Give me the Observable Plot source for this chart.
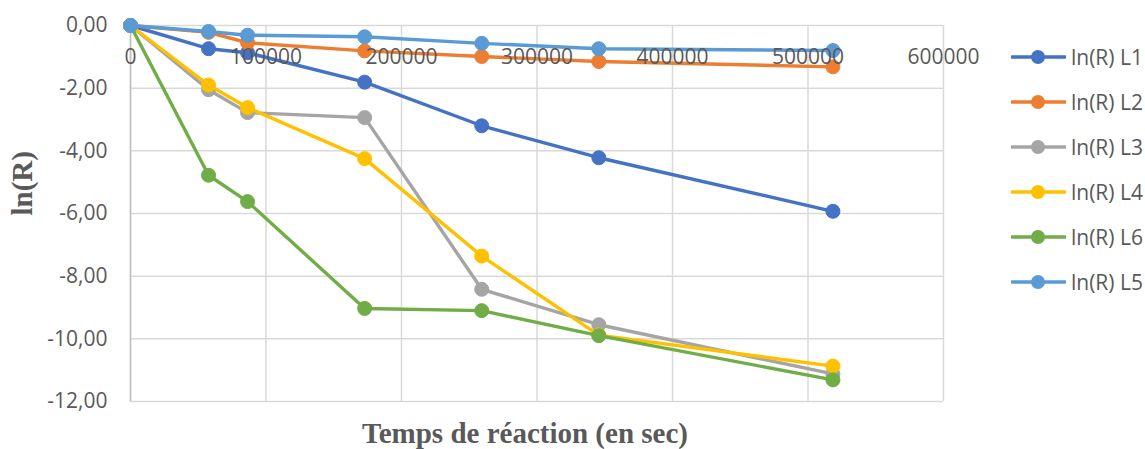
<!DOCTYPE html>
<html>
<head>
<meta charset="utf-8">
<script src="https://cdn.jsdelivr.net/npm/d3@7"></script>
<script src="https://cdn.jsdelivr.net/npm/@observablehq/plot@0.6"></script>
<style>
  body { margin: 0; background: white; }
  #wrap { position: relative; width: 1145px; height: 449px; background: white; }
  #legend { position: absolute; left: 1011px; top: 0; font-family: "Open Sans", sans-serif; font-size: 21px; color: #595959; }
  .item { position: absolute; left: 0; height: 30px; display: flex; align-items: center; white-space: nowrap; }
  .item svg { display: block; margin-right: 5px; }
</style>
</head>
<body>
<div id="wrap"><div id="legend"></div></div>
<script>
// Time in seconds
const times = [0, 57600, 86400, 172800, 259200, 345600, 518400];
// Series values, ln(R)
const L1 = [0, -0.74, -0.87, -1.81, -3.20, -4.22, -5.93];
const L2 = [0, -0.22, -0.55, -0.81, -0.99, -1.15, -1.32];
const L3 = [0, -2.05, -2.78, -2.94, -8.42, -9.55, -11.12];
const L4 = [0, -1.90, -2.62, -4.25, -7.36, -9.88, -10.87];
const L6 = [0, -4.78, -5.62, -9.03, -9.10, -9.90, -11.31];
const L5 = [0, -0.19, -0.31, -0.36, -0.57, -0.74, -0.80];

const seriesNames = ["ln(R) L1", "ln(R) L2", "ln(R) L3", "ln(R) L4", "ln(R) L6", "ln(R) L5"];
const seriesValues = [L1, L2, L3, L4, L6, L5];
const seriesColors = ["#4472C4", "#ED7D31", "#A5A5A5", "#FFC000", "#70AD47", "#5B9BD5"];

const xTicks = [0, 100000, 200000, 300000, 400000, 500000, 600000];
const yTicks = [0, -2, -4, -6, -8, -10, -12];
const xTitle = "Temps de réaction (en sec)";
const yTitle = "ln(R)";

const fmtY = d => d.toFixed(2).replace(".", ",");

const seriesMarks = [];
seriesNames.forEach((name, i) => {
  const rows = times.map((t, j) => ({t, v: seriesValues[i][j], series: name}));
  seriesMarks.push(Plot.line(rows, {x: "t", y: "v", stroke: seriesColors[i], strokeWidth: 3.4, strokeLinejoin: "round"}));
  seriesMarks.push(Plot.dot(rows, {x: "t", y: "v", r: 7, fill: seriesColors[i], stroke: seriesColors[i], strokeWidth: 1}));
});

const chart = Plot.plot({
  width: 1145,
  height: 449,
  marginLeft: 130,
  marginRight: 202,
  marginTop: 25,
  marginBottom: 48,
  x: {domain: [0, 600000], axis: null},
  y: {domain: [-12, 0], axis: null},
  style: {fontFamily: "Open Sans, sans-serif", fontSize: "21px", color: "#595959", background: "white", overflow: "visible"},
  marks: [
    Plot.gridX(xTicks, {stroke: "#D9D9D9", strokeOpacity: 1, strokeWidth: 1.5}),
    Plot.gridY(yTicks, {stroke: "#D9D9D9", strokeOpacity: 1, strokeWidth: 1.5}),
    Plot.ruleX([0], {stroke: "#BFBFBF", strokeWidth: 1.5}),
    Plot.axisY(yTicks, {tickSize: 0, tickPadding: 23, tickFormat: fmtY, label: null, fill: "#595959", fontSize: 21}),
    ...seriesMarks,
    Plot.text(xTicks, {x: d => d, y: d => 0, dy: 32, text: d => String(d), fill: "#595959", fontSize: 21}),
    Plot.text([yTitle], {frameAnchor: "left", dx: -108, dy: 2, rotate: -90, text: d => d, fontFamily: "Liberation Serif, serif", fontWeight: "bold", fontSize: 29, fill: "#595959"}),
    Plot.text([xTitle], {frameAnchor: "bottom", dx: -12, dy: 41, text: d => d, fontFamily: "Liberation Serif, serif", fontWeight: "bold", fontSize: 29, fill: "#595959"})
  ]
});

document.getElementById("wrap").prepend(chart);

const legend = document.getElementById("legend");
const legendTops = [57, 102, 147, 192, 237, 282];
seriesNames.forEach((name, i) => {
  const item = document.createElement("div");
  item.className = "item";
  item.style.top = (legendTops[i] - 15) + "px";
  item.innerHTML = `<svg width="55" height="20"><line x1="1" y1="10" x2="54" y2="10" stroke="${seriesColors[i]}" stroke-width="3.4" stroke-linecap="round"/><circle cx="27" cy="10" r="7" fill="${seriesColors[i]}"/></svg><span>${name}</span>`;
  legend.appendChild(item);
});
</script>
</body>
</html>
